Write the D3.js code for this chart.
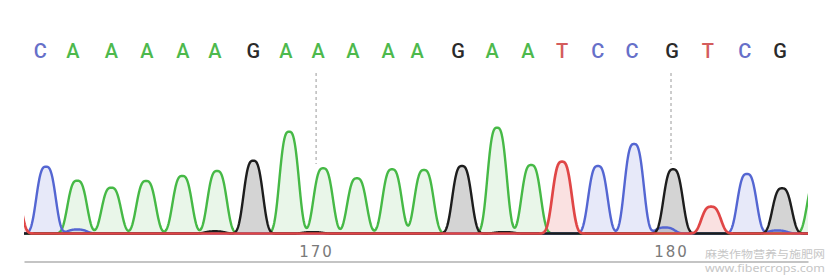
<!DOCTYPE html>
<html>
<head>
<meta charset="utf-8">
<script src="https://cdn.jsdelivr.net/npm/d3@7/dist/d3.min.js"></script>
<style>
  html, body { margin: 0; padding: 0; background: #fff; }
  svg { display: block; }
</style>
</head>
<body>
<svg id="chart" width="831" height="280"></svg>
<script>
// Base calls shown above the trace
const callBase = ["C","A","A","A","A","A","G","A","A","A","A","A","G","A","A","T","C","C","G","T","C","G"];
const callPos  = [162.23,163.15,164.23,165.23,166.25,167.15,168.23,169.15,170.06,171.04,172.03,
                  172.85,174.00,174.96,175.97,176.93,177.94,178.90,180.03,181.04,182.08,183.07];

// Main peaks of the four dye channels (position in base units, signal height)
const peakBase   = ["T","C","A","A","A","A","A","G","A","A","A","A","A","G","A","A","T","C","C","G","T","C","G","A"];
const peakPos    = [161.40,162.39,163.27,164.23,165.21,166.23,167.21,168.23,169.24,170.20,171.15,172.14,
                    173.04,174.11,175.10,176.06,176.93,177.94,178.96,180.06,181.13,182.14,183.13,184.11];
const peakHeight = [560,668,528,458,525,575,625,728,1018,652,552,642,
                    635,675,1058,685,718,675,895,642,268,595,452,550];

// Small background bumps near the baseline
const minorBase   = ["C","G","G","G","C","C"];
const minorPos    = [163.27,167.15,169.90,175.30,179.83,183.00];
const minorHeight = [40,22,14,14,60,30];

// Axis ticks
const tickValues = [170, 180];

// Watermark lines
const markLines = ["麻类作物营养与施肥网", "www.fibercrops.com"];

const channels = ["A","C","G","T"];
const lineColor = { A: "#46b946", C: "#5466d2", G: "#1d1d1d", T: "#e04646" };
const fillColor = { A: "rgba(70,185,70,0.12)", C: "rgba(84,102,210,0.14)",
                    G: "rgba(0,0,0,0.17)", T: "rgba(224,70,70,0.16)" };
const textColor = { A: "#4db94d", C: "#6670c9", G: "#2a2a2a", T: "#d45c5c" };

const svg = d3.select("#chart");
const left = 24, right = 808, baseY = 233.5;

const x = d3.scaleLinear().domain([161.77, 183.86]).range([left, right]);
const y = d3.scaleLinear().domain([0, 1200]).range([baseY, baseY - 120]);

// Peak profile: rounded top with steep flanks
const width = 0.32, power = 3;
function profile(u, p, h) {
  return h * Math.exp(-Math.pow(Math.abs((u - p) / width), power));
}

const samples = d3.range(161.2, 184.6, 0.01);
const traces = channels.map(ch => {
  const pk = peakPos.map((p, i) => ({ p, h: peakHeight[i], b: peakBase[i] })).filter(d => d.b === ch);
  const mn = minorPos.map((p, i) => ({ p, h: minorHeight[i], b: minorBase[i] })).filter(d => d.b === ch);
  const all = pk.concat(mn);
  return {
    ch,
    values: samples.map(u => ({ u, v: d3.sum(all, d => profile(u, d.p, d.h)) }))
  };
});

svg.append("defs").append("clipPath").attr("id", "plot-clip")
  .append("rect").attr("x", left).attr("y", 0).attr("width", right - left).attr("height", 245);

// Dashed guides at the numbered positions
svg.append("g").selectAll("line").data(tickValues).join("line")
  .attr("x1", d => x(d)).attr("x2", d => x(d))
  .attr("y1", 73).attr("y2", 164)
  .attr("stroke", "#9a9a9a").attr("stroke-width", 1)
  .attr("stroke-dasharray", "3,3");

const plot = svg.append("g").attr("clip-path", "url(#plot-clip)");

const area = d3.area().x(d => x(d.u)).y0(y(0)).y1(d => y(d.v)).curve(d3.curveLinear);
const line = d3.line().x(d => x(d.u)).y(d => y(d.v)).curve(d3.curveLinear);

plot.selectAll("path.fill").data(traces).join("path")
  .attr("class", "fill")
  .attr("d", d => area(d.values))
  .attr("fill", d => fillColor[d.ch]);

plot.selectAll("path.trace").data(traces).join("path")
  .attr("class", "trace")
  .attr("d", d => line(d.values))
  .attr("fill", "none")
  .attr("stroke", d => lineColor[d.ch])
  .attr("stroke-width", d => d.ch === "T" ? 2.7 : 2.4)
  .attr("stroke-linejoin", "round");

// Base call letters
svg.append("g").selectAll("text").data(callBase).join("text")
  .attr("x", (d, i) => x(callPos[i]))
  .attr("y", 57.5)
  .attr("text-anchor", "middle")
  .attr("font-family", "Roboto, 'Noto Sans', sans-serif")
  .attr("font-size", 20)
  .attr("font-weight", 500)
  .attr("fill", d => textColor[d])
  .text(d => d);

// Position axis below the trace
const axis = d3.axisTop(x).tickValues(tickValues).tickSize(0).tickSizeOuter(0).tickPadding(5)
  .tickFormat(d3.format("d"));
const ax = svg.append("g").attr("transform", "translate(0,261.5)").call(axis);
ax.select(".domain").attr("stroke", "#c4c4c4").attr("stroke-width", 2);
ax.selectAll("text")
  .attr("font-family", "'DejaVu Sans', sans-serif")
  .attr("font-size", 15)
  .attr("letter-spacing", 2)
  .attr("fill", "#7a7a7a");

// Site watermark
svg.append("text").attr("x", 705).attr("y", 258)
  .attr("font-family", "'Noto Sans CJK SC', sans-serif").attr("font-size", 10.5)
  .attr("textLength", 120).attr("lengthAdjust", "spacingAndGlyphs")
  .attr("fill", "#c6c6c6").text(markLines[0]);
svg.append("text").attr("x", 705).attr("y", 271.5)
  .attr("font-family", "'Noto Sans', sans-serif").attr("font-size", 11)
  .attr("textLength", 120).attr("lengthAdjust", "spacingAndGlyphs")
  .attr("fill", "#c6c6c6").text(markLines[1]);
</script>
</body>
</html>
